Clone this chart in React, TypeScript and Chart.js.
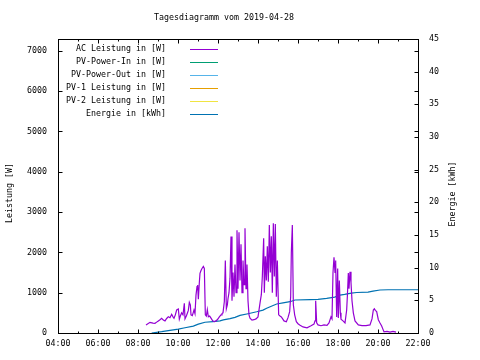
import { useEffect, useRef } from "react";
import { Chart, registerables } from "chart.js";

Chart.register(...registerables);

const TITLE = "Tagesdiagramm vom 2019-04-28";
const Y_TITLE = "Leistung [W]";
const Y2_TITLE = "Energie [kWh]";

const SERIES_NAMES = [
  "AC Leistung in [W]",
  "PV-Power-In in [W]",
  "PV-Power-Out in [W]",
  "PV-1 Leistung in [W]",
  "PV-2 Leistung in [W]",
  "Energie in [kWh]",
];
const SERIES_COLORS = ["#9400d3", "#009e73", "#56b4e9", "#e69f00", "#f0e442", "#0072b2"];

const AC_TIMES = [
  "08:24", "08:36", "08:45", "08:51", "08:56", "09:01", "09:06", "09:11", "09:16", "09:21",
  "09:26", "09:31", "09:36", "09:41", "09:45", "09:48", "09:52", "09:56", "10:01", "10:04",
  "10:07", "10:11", "10:15", "10:19", "10:21", "10:25", "10:28", "10:31", "10:34", "10:37",
  "10:39", "10:43", "10:48", "10:51", "10:54", "10:57", "10:59", "11:01", "11:04", "11:06",
  "11:09", "11:12", "11:16", "11:19", "11:22", "11:25", "11:28", "11:31", "11:35", "11:39",
  "11:44", "11:49", "11:54", "11:59", "12:04", "12:09", "12:12", "12:15", "12:19", "12:22",
  "12:25", "12:28", "12:30", "12:33", "12:36", "12:39", "12:42", "12:45", "12:48", "12:51",
  "12:54", "12:57", "13:00", "13:03", "13:06", "13:09", "13:12", "13:15", "13:18", "13:21",
  "13:24", "13:27", "13:30", "13:33", "13:36", "13:42", "13:48", "13:54", "14:00", "14:06",
  "14:10", "14:13", "14:17", "14:19", "14:22", "14:25", "14:28", "14:31", "14:34", "14:37",
  "14:40", "14:43", "14:46", "14:49", "14:52", "14:55", "14:58", "15:02", "15:06", "15:10",
  "15:14", "15:18", "15:25", "15:30", "15:35", "15:38", "15:40", "15:43", "15:46", "15:50",
  "15:55", "16:00", "16:05", "16:15", "16:27", "16:39", "16:48", "16:51", "16:53", "16:56",
  "17:00", "17:09", "17:18", "17:27", "17:33", "17:39", "17:42", "17:45", "17:48", "17:51",
  "17:53", "17:56", "17:59", "18:01", "18:04", "18:07", "18:09", "18:15", "18:21", "18:26",
  "18:28", "18:31", "18:33", "18:36", "18:39", "18:42", "18:46", "18:51", "19:01", "19:12",
  "19:24", "19:36", "19:42", "19:46", "19:49", "19:52", "19:56", "20:01", "20:06", "20:11",
  "20:15", "20:18", "20:27", "20:36", "20:45", "20:54",
];
const AC_VALUES = [
  200, 265, 245, 240, 270, 300, 330, 365, 320, 300,
  360, 405, 380, 465, 400, 365, 450, 570, 595, 340,
  420, 500, 450, 735, 350, 420, 490, 560, 760, 700,
  450, 430, 570, 480, 940, 1150, 1190, 840, 1250, 1480,
  1550, 1600, 1650, 1600, 450, 420, 580, 400, 420, 370,
  300, 280, 300, 340, 400, 450, 480, 500, 780, 1800,
  600, 700, 850, 1000, 1360, 2390, 800, 1500, 900, 1700,
  1000, 2550, 1100, 2500, 1300, 2200, 1000, 1800, 1200, 2600,
  1100, 1700, 800, 450, 370, 320, 330, 350, 400, 740,
  950, 1400, 2350, 1000, 1900, 1300, 2150, 1270, 2680, 1500,
  2400, 1000, 2720, 1400, 2700, 900, 1800, 450, 420, 400,
  350, 300, 280, 380, 530, 900, 2000, 2680, 700, 450,
  280, 230, 200, 150, 130, 180, 220, 300, 800, 250,
  200, 180, 200, 190, 250, 400, 350, 1500, 1880, 1500,
  1800, 400, 1600, 370, 1300, 500, 340, 300, 250, 570,
  900, 1490, 1100, 1520, 1250, 800, 500, 300, 200, 185,
  185, 200, 350, 570, 600, 560, 530, 330, 250, 175,
  90, 30, 40, 20, 40, 20,
];

const ENERGY_TIMES = [
  "08:41", "09:11", "09:36", "10:01", "10:21", "10:46", "11:01", "11:21", "11:45", "12:06",
  "12:16", "12:36", "12:51", "13:06", "13:30", "13:56", "14:15", "14:26", "14:40", "14:56",
  "15:15", "15:36", "15:51", "16:36", "17:00", "17:26", "17:50", "18:06", "18:20", "18:40",
  "18:56", "19:30", "19:45", "20:06", "20:30", "22:00",
];
const ENERGY_VALUES = [
  0, 0.2, 0.4, 0.6, 0.8, 1.05, 1.35, 1.65, 1.75, 1.85,
  2.0, 2.2, 2.4, 2.7, 2.95, 3.25, 3.5, 3.78, 4.1, 4.44,
  4.6, 4.79, 5.05, 5.1, 5.15, 5.3, 5.5, 5.8, 5.9, 6.1,
  6.2, 6.25, 6.4, 6.58, 6.62, 6.62,
];

const PV_IN_VALUES: number[] = [];
const PV_OUT_VALUES: number[] = [];
const PV1_VALUES: number[] = [];
const PV2_VALUES: number[] = [];

const X_MIN = 4;
const X_MAX = 22;
const X_LABEL_HOURS = [4, 6, 8, 10, 12, 14, 16, 18, 20, 22];
const X_TICK_LABELS = ["04:00", "06:00", "08:00", "10:00", "12:00", "14:00", "16:00", "18:00", "20:00", "22:00"];
const X_ALL_HOURS = [4, 5, 6, 7, 8, 9, 10, 11, 12, 13, 14, 15, 16, 17, 18, 19, 20, 21, 22];
const Y_TICKS = [0, 1000, 2000, 3000, 4000, 5000, 6000, 7000];
const Y_MAX = 7290;
const Y2_TICKS = [0, 5, 10, 15, 20, 25, 30, 35, 40, 45];
const Y2_MAX = 45;

const FONT_FAMILY = "'DejaVu Sans Mono', monospace";
const FONT_SIZE = 8.3;
const FONT = `${FONT_SIZE}px ${FONT_FAMILY}`;

function toHours(t: string): number {
  const [h, m] = t.split(":").map(Number);
  return h + m / 60;
}

const decorPlugin = {
  id: "decor",
  afterDraw(chart: any) {
    const { ctx, chartArea: a, scales } = chart;
    const L = Math.round(a.left) + 0.5;
    const R = Math.round(a.right) + 0.5;
    const T = Math.round(a.top) + 0.5;
    const B = Math.round(a.bottom) + 0.5;
    ctx.save();
    ctx.strokeStyle = "#000";
    ctx.lineWidth = 1;
    ctx.strokeRect(L, T, R - L, B - T);
    ctx.beginPath();
    for (const h of X_ALL_HOURS) {
      const px = Math.round(scales.x.getPixelForValue(h)) + 0.5;
      const len = h % 2 === 0 ? 4 : 2;
      ctx.moveTo(px, B);
      ctx.lineTo(px, B - len);
      ctx.moveTo(px, T);
      ctx.lineTo(px, T + len);
    }
    for (const v of Y_TICKS) {
      const py = Math.round(scales.y.getPixelForValue(v)) + 0.5;
      ctx.moveTo(L, py);
      ctx.lineTo(L + 4, py);
      ctx.moveTo(R, py);
      ctx.lineTo(R - 4, py);
    }
    for (const v of Y2_TICKS) {
      const py = Math.round(scales.y2.getPixelForValue(v)) + 0.5;
      ctx.moveTo(R, py);
      ctx.lineTo(R - 4, py);
    }
    ctx.stroke();

    ctx.fillStyle = "#000";
    ctx.font = FONT;
    ctx.textAlign = "center";
    ctx.textBaseline = "middle";
    ctx.fillText(TITLE, 224, 17.5);

    ctx.save();
    ctx.translate(10, 193);
    ctx.rotate(-Math.PI / 2);
    ctx.fillText(Y_TITLE, 0, 0);
    ctx.restore();

    ctx.save();
    ctx.translate(452.5, 194);
    ctx.rotate(-Math.PI / 2);
    ctx.fillText(Y2_TITLE, 0, 0);
    ctx.restore();

    // legend
    ctx.textAlign = "right";
    ctx.textBaseline = "alphabetic";
    SERIES_NAMES.forEach((name, i) => {
      const y = a.top + 10.5 + 13 * i;
      ctx.fillStyle = "#000";
      ctx.fillText(name, 166, y + 1);
      ctx.strokeStyle = SERIES_COLORS[i];
      ctx.beginPath();
      ctx.moveTo(190, y);
      ctx.lineTo(218, y);
      ctx.stroke();
    });
    ctx.restore();
  },
};

export default function App() {
  const canvasRef = useRef<HTMLCanvasElement | null>(null);

  useEffect(() => {
    document.body.style.margin = "0";
    const canvas = canvasRef.current;
    if (!canvas) return;

    const ac = AC_TIMES.map((t, i) => ({ x: toHours(t), y: AC_VALUES[i] }));
    const energy = ENERGY_TIMES.map((t, i) => ({ x: toHours(t), y: ENERGY_VALUES[i] }));
    const empty = (arr: number[]) => arr.map((v, i) => ({ x: i, y: v }));

    const tickFont = { family: FONT_FAMILY, size: FONT_SIZE };

    const chart = new Chart(canvas, {
      type: "line",
      data: {
        datasets: [
          { label: SERIES_NAMES[0], data: ac, borderColor: SERIES_COLORS[0], yAxisID: "y" },
          { label: SERIES_NAMES[1], data: empty(PV_IN_VALUES), borderColor: SERIES_COLORS[1], yAxisID: "y" },
          { label: SERIES_NAMES[2], data: empty(PV_OUT_VALUES), borderColor: SERIES_COLORS[2], yAxisID: "y" },
          { label: SERIES_NAMES[3], data: empty(PV1_VALUES), borderColor: SERIES_COLORS[3], yAxisID: "y" },
          { label: SERIES_NAMES[4], data: empty(PV2_VALUES), borderColor: SERIES_COLORS[4], yAxisID: "y" },
          { label: SERIES_NAMES[5], data: energy, borderColor: SERIES_COLORS[5], yAxisID: "y2" },
        ] as any,
      },
      options: {
        animation: false,
        responsive: false,
        devicePixelRatio: 1,
        layout: { padding: { top: 39, left: 0, right: 0, bottom: 0 } },
        elements: {
          point: { radius: 0, hoverRadius: 0 },
          line: { borderWidth: 1.2, tension: 0, fill: false },
        },
        plugins: {
          legend: { display: false },
          title: { display: false },
          tooltip: { enabled: false },
        },
        events: [],
        scales: {
          x: {
            type: "linear",
            position: "bottom",
            min: X_MIN,
            max: X_MAX,
            grid: { display: false, drawTicks: false },
            border: { display: false },
            ticks: {
              autoSkip: false,
              maxRotation: 0,
              minRotation: 0,
              padding: 6,
              color: "#000",
              font: tickFont,
              callback: (_v: any, i: number) => X_TICK_LABELS[i],
            },
            afterBuildTicks: (s: any) => {
              s.ticks = X_LABEL_HOURS.map((v) => ({ value: v }));
            },
            afterFit: (s: any) => {
              s.height = 27;
            },
          },
          y: {
            type: "linear",
            position: "left",
            min: 0,
            max: Y_MAX,
            grid: { display: false, drawTicks: false },
            border: { display: false },
            ticks: { padding: 11, color: "#000", font: tickFont, callback: (v: any) => String(v) },
            afterBuildTicks: (s: any) => {
              s.ticks = Y_TICKS.map((v) => ({ value: v }));
            },
            afterFit: (s: any) => {
              s.width = 58;
            },
          },
          y2: {
            type: "linear",
            position: "right",
            min: 0,
            max: Y2_MAX,
            grid: { display: false, drawTicks: false },
            border: { display: false },
            ticks: { padding: 11, color: "#000", font: tickFont, callback: (v: any) => String(v) },
            afterBuildTicks: (s: any) => {
              s.ticks = Y2_TICKS.map((v) => ({ value: v }));
            },
            afterFit: (s: any) => {
              s.width = 62;
            },
          },
        } as any,
      },
      plugins: [decorPlugin],
    });

    return () => {
      chart.destroy();
    };
  }, []);

  return (
    <div style={{ position: "fixed", left: 0, top: 0, width: 480, height: 360, background: "#fff" }}>
      <canvas ref={canvasRef} width={480} height={360} style={{ display: "block" }} />
    </div>
  );
}
